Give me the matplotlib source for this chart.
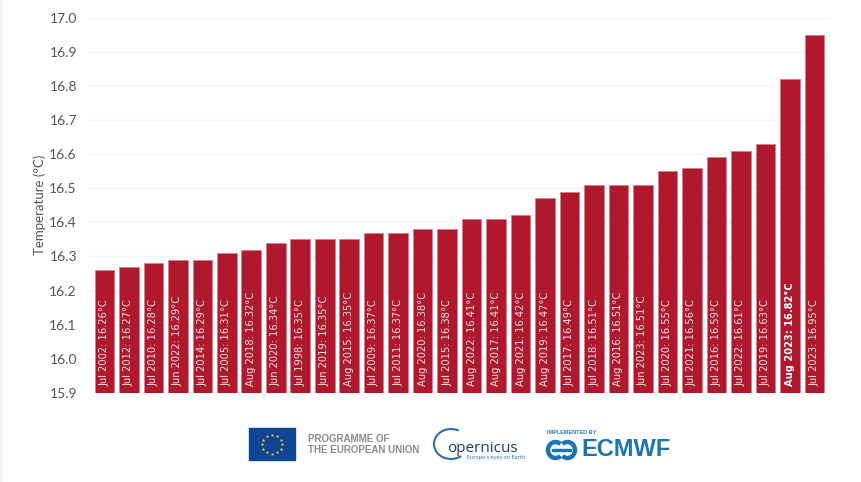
import matplotlib

matplotlib.use("Agg")
import matplotlib.pyplot as plt
from matplotlib.patches import Arc, Rectangle

WIDTH, HEIGHT = 861, 482

MONTHS = [
    "Jul 2002", "Jul 2012", "Jul 2010", "Jun 2022", "Jul 2014", "Jul 2005",
    "Aug 2018", "Jun 2020", "Jul 1998", "Jun 2019", "Aug 2015", "Jul 2009",
    "Jul 2011", "Aug 2020", "Jul 2015", "Aug 2022", "Aug 2017", "Aug 2021",
    "Aug 2019", "Jul 2017", "Jul 2018", "Aug 2016", "Jun 2023", "Jul 2020",
    "Jul 2021", "Jul 2016", "Jul 2022", "Jul 2019", "Aug 2023", "Jul 2023",
]
TEMPS = [
    16.26, 16.27, 16.28, 16.29, 16.29, 16.31,
    16.32, 16.34, 16.35, 16.35, 16.35, 16.37,
    16.37, 16.38, 16.38, 16.41, 16.41, 16.42,
    16.47, 16.49, 16.51, 16.51, 16.51, 16.55,
    16.56, 16.59, 16.61, 16.63, 16.82, 16.95,
]
Y_TICKS = [15.9, 16.0, 16.1, 16.2, 16.3, 16.4, 16.5, 16.6, 16.7, 16.8, 16.9, 17.0]
HIGHLIGHT = "Aug 2023"

plt.rcParams["font.family"] = ["Lato", "DejaVu Sans"]

fig = plt.figure(figsize=(WIDTH / 100, HEIGHT / 100), dpi=100)

# axes placed in pixels: x 88-830, y 17.5-393
ax = fig.add_axes([88 / WIDTH, 1 - 393 / HEIGHT, 742 / WIDTH, 375.5 / HEIGHT])
positions = list(range(len(TEMPS)))
ax.bar(positions, TEMPS, width=0.8, color="#b0182e", edgecolor="#d9808c", linewidth=0.6, zorder=2)
ax.set_xlim(-0.67, 29.64)
ax.set_ylim(15.9, 17.0)
ax.set_xticks([])
ax.set_yticks(Y_TICKS, [f"{tick:.1f}" for tick in Y_TICKS])
ax.tick_params(axis="y", length=0, pad=8, labelsize=10, labelcolor="#555555")
ax.set_ylabel("Temperature (°C)", fontsize=9.5, color="#555555")
ax.yaxis.set_label_coords(-0.057, 0.5)
ax.grid(axis="y", color="#f4f4f4", linewidth=1, zorder=0)
ax.set_axisbelow(True)
for spine in ax.spines.values():
    spine.set_visible(False)

for pos, month, temp in zip(positions, MONTHS, TEMPS):
    bold = month == HIGHLIGHT
    ax.text(
        pos, 15.921, f"{month}: {temp:.2f}°C",
        rotation=90, ha="center", va="bottom", color="white" if bold else "#fbe6e9", fontsize=7.1,
        family=["DejaVu Sans"], weight="bold" if bold else "normal", zorder=3,
    )

# overlay in pixel coordinates for the logo strip
logo = fig.add_axes([0, 0, 1, 1])
logo.set_xlim(0, WIDTH)
logo.set_ylim(HEIGHT, 0)
logo.axis("off")
logo.patch.set_alpha(0)

logo.add_patch(Rectangle((0, 0), 1, HEIGHT, color="#eaf3f8"))

# EU flag
logo.add_patch(Rectangle((249, 428), 46, 32, color="#0f4595"))
star_x = [272, 277, 281, 282, 281, 277, 272, 267, 263, 262, 263, 267]
star_y = [434.5, 436, 439.5, 444, 448.5, 452, 453.5, 452, 448.5, 444, 439.5, 436]
logo.scatter(star_x, star_y, s=7, marker="*", color="#f5d90a", linewidths=0)
logo.text(308, 438.5, "PROGRAMME OF", fontsize=7, weight="bold", color="#8c8c8c",
          family=["Liberation Sans"], va="center")
logo.text(308, 450, "THE EUROPEAN UNION", fontsize=7, weight="bold", color="#8c8c8c",
          family=["Liberation Sans"], va="center")

# Copernicus
logo.add_patch(Arc((451, 444), 34, 30, theta1=50, theta2=300, color="#2a6db0", lw=1.5))
logo.text(447, 448, "opernicus", fontsize=11, color="#17406e", family=["Open Sans"], va="center")
logo.text(496, 458, "Europe's eyes on Earth", fontsize=4, color="#2a6db0", family=["Open Sans"],
          ha="center", va="center")

# ECMWF
logo.text(547, 432, "IMPLEMENTED BY", fontsize=4, weight="bold", color="#2a7ab8",
          family=["Liberation Sans"], va="center")
logo.add_patch(Arc((555.5, 450), 15, 16, theta1=50, theta2=310, color="#1a75b5", lw=3.2))
logo.add_patch(Arc((567.5, 450), 15, 16, theta1=230, theta2=130, color="#1a75b5", lw=3.2))
logo.add_patch(Rectangle((552, 448.7), 19, 2.6, color="#1a75b5"))
logo.text(581, 450, "ECMWF", fontsize=17, weight="bold", color="#1a75b5",
          family=["Liberation Sans"], va="center")

fig.savefig("out.png", dpi=100)
